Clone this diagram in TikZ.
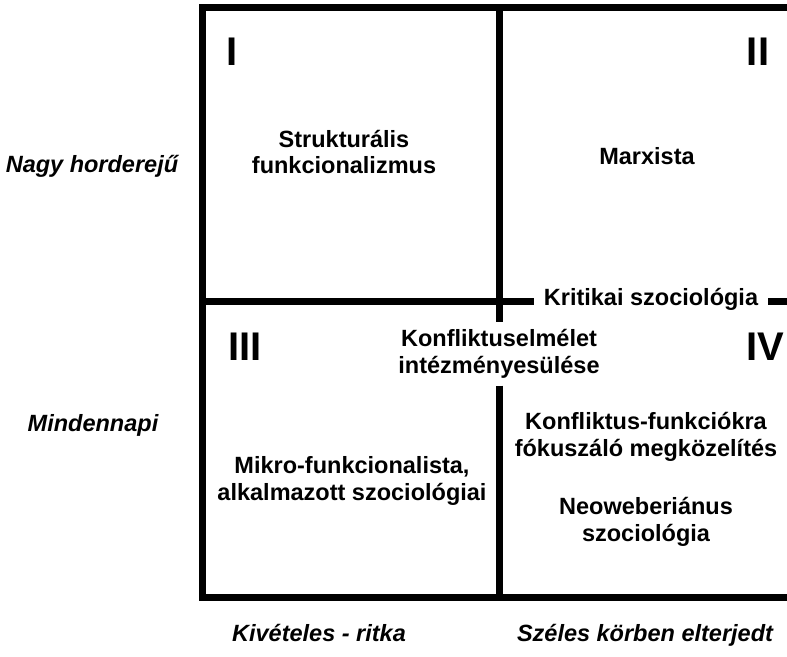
\documentclass[tikz,border=0pt]{standalone}
\usepackage{fontspec}
\setmainfont{Liberation Sans}
\begin{document}
\begin{tikzpicture}[x=1pt,y=-1pt,
	frame/.style={line width=7pt},
	txt/.style={font=\fontsize{23.5}{26.5}\selectfont\bfseries, align=center},
	axis/.style={font=\fontsize{23.5}{26.5}\selectfont\bfseries\itshape, anchor=base},
	roman/.style={font=\fontsize{40}{40}\selectfont\bfseries, inner sep=0pt}]
	\useasboundingbox (0,0) rectangle (787,656);
	% quadrant numbers
	\node[roman] (n1) at (232,52) {I};
	\node[roman] (n2) at (758,52) {II};
	\node[roman] (n3) at (245,347) {III};
	\node[roman] (n4) at (765,347) {IV};
	% quadrant texts
	\node[txt] (struk) at (344,152) {Strukturális\\funkcionalizmus};
	\node[txt] (marx) at (647,156) {Marxista};
	\node[txt, inner xsep=10pt] (krit) at (651,299) {Kritikai szociológia};
	\node[txt, inner ysep=7pt] (konf) at (499,354) {Konfliktuselmélet\\intézményesülése};
	\node[txt] (mikro) at (352,481) {Mikro-funkcionalista,\\alkalmazott szociológiai};
	\node[txt] (fokusz) at (646,437) {Konfliktus-funkciókra\\fókuszáló megközelítés};
	\node[txt] (neo) at (646,522) {Neoweberiánus\\szociológia};
	% axis texts
	\node[axis] (nagy) at (92,172) {Nagy horderejű};
	\node[axis] (minden) at (93,431) {Mindennapi};
	\node[axis] (ritka) at (319,641) {Kivételes - ritka};
	\node[axis] (szeles) at (645,641) {Széles körben elterjedt};
	% frame
	\coordinate (tl) at (202,7.5);
	\coordinate (tr) at (787,7.5);
	\coordinate (bl) at (202,597.5);
	\coordinate (br) at (787,597.5);
	\coordinate (tm) at (499,7.5);
	\coordinate (bm) at (499,597.5);
	\coordinate (ml) at (202,301.5);
	\coordinate (mr) at (787,301.5);
	\draw[frame] (tr) -- (tl) -- (bl) -- (br);
	\draw[frame] (tm) -- (konf.north);
	\draw[frame] (konf.south) -- (bm);
	\draw[frame] (ml) -- (krit.west |- ml);
	\draw[frame] (krit.east |- ml) -- (mr);
\end{tikzpicture}
\end{document}
